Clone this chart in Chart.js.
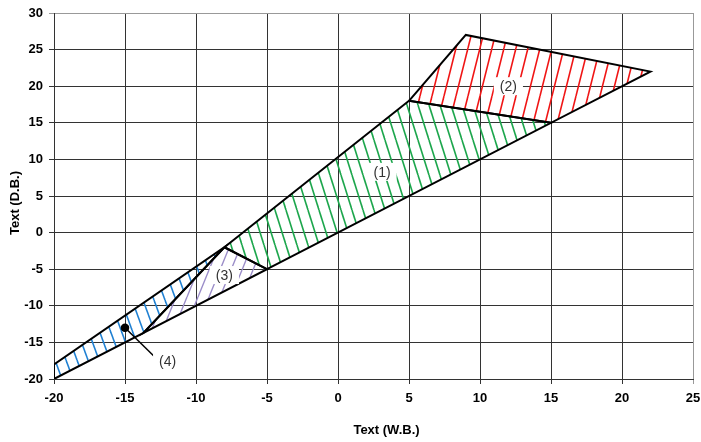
<!DOCTYPE html>
<html>
<head>
<meta charset="utf-8">
<script src="https://cdn.jsdelivr.net/npm/chart.js@4/dist/chart.umd.min.js"></script>
<style>
html, body { margin: 0; padding: 0; background: #fff; }
</style>
</head>
<body>
<canvas id="chart" width="701" height="442"></canvas>
<script>
// tick labels
var xTicks = [-20, -15, -10, -5, 0, 5, 10, 15, 20, 25];
var yTicks = [-20, -15, -10, -5, 0, 5, 10, 15, 20, 25, 30];

// zone (1) green
var zone1X = [-8, 5, 15, -5, -8];
var zone1Y = [-2, 18, 15, -5, -2];
// zone (2) red
var zone2X = [5, 9, 22, 15, 5];
var zone2Y = [18, 27, 22, 15, 18];
// zone (3) purple
var zone3X = [-8, -5, -13.7, -8];
var zone3Y = [-2, -5, -13.7, -2];
// zone (4) blue
var zone4X = [-20, -8, -13.7, -20, -20];
var zone4Y = [-18, -2, -13.7, -20, -18];

// zone labels
var labelText = ["(1)", "(2)", "(3)", "(4)"];
var labelX = [3.1, 12, -8, -12];
var labelY = [8.3, 20, -5.8, -17.6];

// pointer of (4)
var arrowX = [-15, -12.9];
var arrowY = [-13, -17];

var FONT = "'Liberation Sans', Arial, sans-serif";

function pts(xs, ys) {
    return xs.map(function (x, i) { return { x: x, y: ys[i] }; });
}

//斜線パターン
function hatch(color, w, h, dir, lw) {
    var c = document.createElement("canvas");
    c.width = w;
    c.height = h;
    var g = c.getContext("2d");
    g.strokeStyle = color;
    g.lineWidth = lw;
    for (var i = -1; i <= 1; i++) {
        g.beginPath();
        if (dir == "/") {
            g.moveTo(i * w, h);
            g.lineTo(i * w + w, 0);
        } else {
            g.moveTo(i * w, 0);
            g.lineTo(i * w + w, h);
        }
        g.stroke();
    }
    return g.createPattern(c, "repeat");
}

function zone(xs, ys, pattern) {
    return {
        data: pts(xs, ys),
        showLine: true,
        fill: "shape",
        backgroundColor: pattern,
        borderColor: "#000",
        borderWidth: 2,
        pointRadius: 0,
    };
}

var zoneLabels = {
    id: "zoneLabels",
    afterDatasetsDraw: function (chart) {
        var c = chart.ctx, xs = chart.scales.x, ys = chart.scales.y;
        c.save();
        c.font = "14px " + FONT;
        c.textAlign = "center";
        c.textBaseline = "middle";
        labelText.forEach(function (t, i) {
            var px = xs.getPixelForValue(labelX[i]);
            var py = ys.getPixelForValue(labelY[i]);
            var w = c.measureText(t).width + 12;
            c.fillStyle = "#fff";
            c.fillRect(px - w / 2, py - 9, w, 18);
            c.fillStyle = "#333";
            c.fillText(t, px, py + 1);
        });
        c.restore();
    },
    afterDraw: function (chart) {
        var c = chart.ctx, a = chart.chartArea;
        c.save();
        c.font = "bold 13px " + FONT;
        c.fillStyle = "#000";
        c.textAlign = "center";
        c.textBaseline = "middle";
        c.fillText("Text (W.B.)", (a.left + a.right) / 2 + 13, chart.height - 12);
        c.translate(15, (a.top + a.bottom) / 2 + 7);
        c.rotate(-Math.PI / 2);
        c.fillText("Text (D.B.)", 0, 0);
        c.restore();
    }
};

function gridColor(edge) {
    return function (ctx) {
        return ctx.tick && ctx.tick.value === edge ? "#999" : "#333";
    };
}

var ctx = document.getElementById("chart");
var myChart = new Chart(ctx, {
    type: "scatter",
    data: {
        datasets: [
            zone(zone1X, zone1Y, hatch("#1ca64c", 11, 35, "\\", 1.6)),
            zone(zone2X, zone2Y, hatch("#f01414", 12, 48, "/", 1.6)),
            zone(zone3X, zone3Y, hatch("#9a8cc8", 11, 27, "/", 1.4)),
            zone(zone4X, zone4Y, hatch("#1f80d2", 11, 30, "\\", 1.6)),
            {
                data: pts(arrowX, arrowY),
                showLine: true,
                fill: false,
                borderColor: "#000",
                borderWidth: 1.5,
                pointRadius: [3.5, 0],
                pointBackgroundColor: "#000",
                pointBorderColor: "#000",
            },
        ],
    },
    options: {
        responsive: false,
        animation: false,
        layout: { padding: { top: 13, right: 8, left: 0, bottom: 0 } },
        plugins: {
            legend: { display: false },
            tooltip: { enabled: false },
            filler: { drawTime: "beforeDatasetsDraw" },
        },
        scales: {
            x: {
                type: "linear",
                min: -20,
                max: 25,
                afterBuildTicks: function (s) {
                    s.ticks = xTicks.map(function (v) { return { value: v }; });
                },
                afterFit: function (s) {
                    s.height = 63;
                    s.paddingLeft = 0;
                    s.paddingRight = 0;
                },
                ticks: {
                    color: "#000",
                    padding: 7,
                    font: { family: FONT, size: 13, weight: "bold" },
                },
                grid: { color: gridColor(25), tickLength: 5, lineWidth: 1 },
                border: { color: "#333" },
            },
            y: {
                type: "linear",
                min: -20,
                max: 30,
                afterBuildTicks: function (s) {
                    s.ticks = yTicks.map(function (v) { return { value: v }; });
                },
                afterFit: function (s) {
                    s.width = 54;
                    s.paddingTop = 0;
                    s.paddingBottom = 0;
                },
                ticks: {
                    color: "#000",
                    padding: 6,
                    font: { family: FONT, size: 13, weight: "bold" },
                },
                grid: { color: gridColor(30), tickLength: 5, lineWidth: 1 },
                border: { color: "#333" },
            },
        },
    },
    plugins: [zoneLabels],
});
</script>
</body>
</html>
